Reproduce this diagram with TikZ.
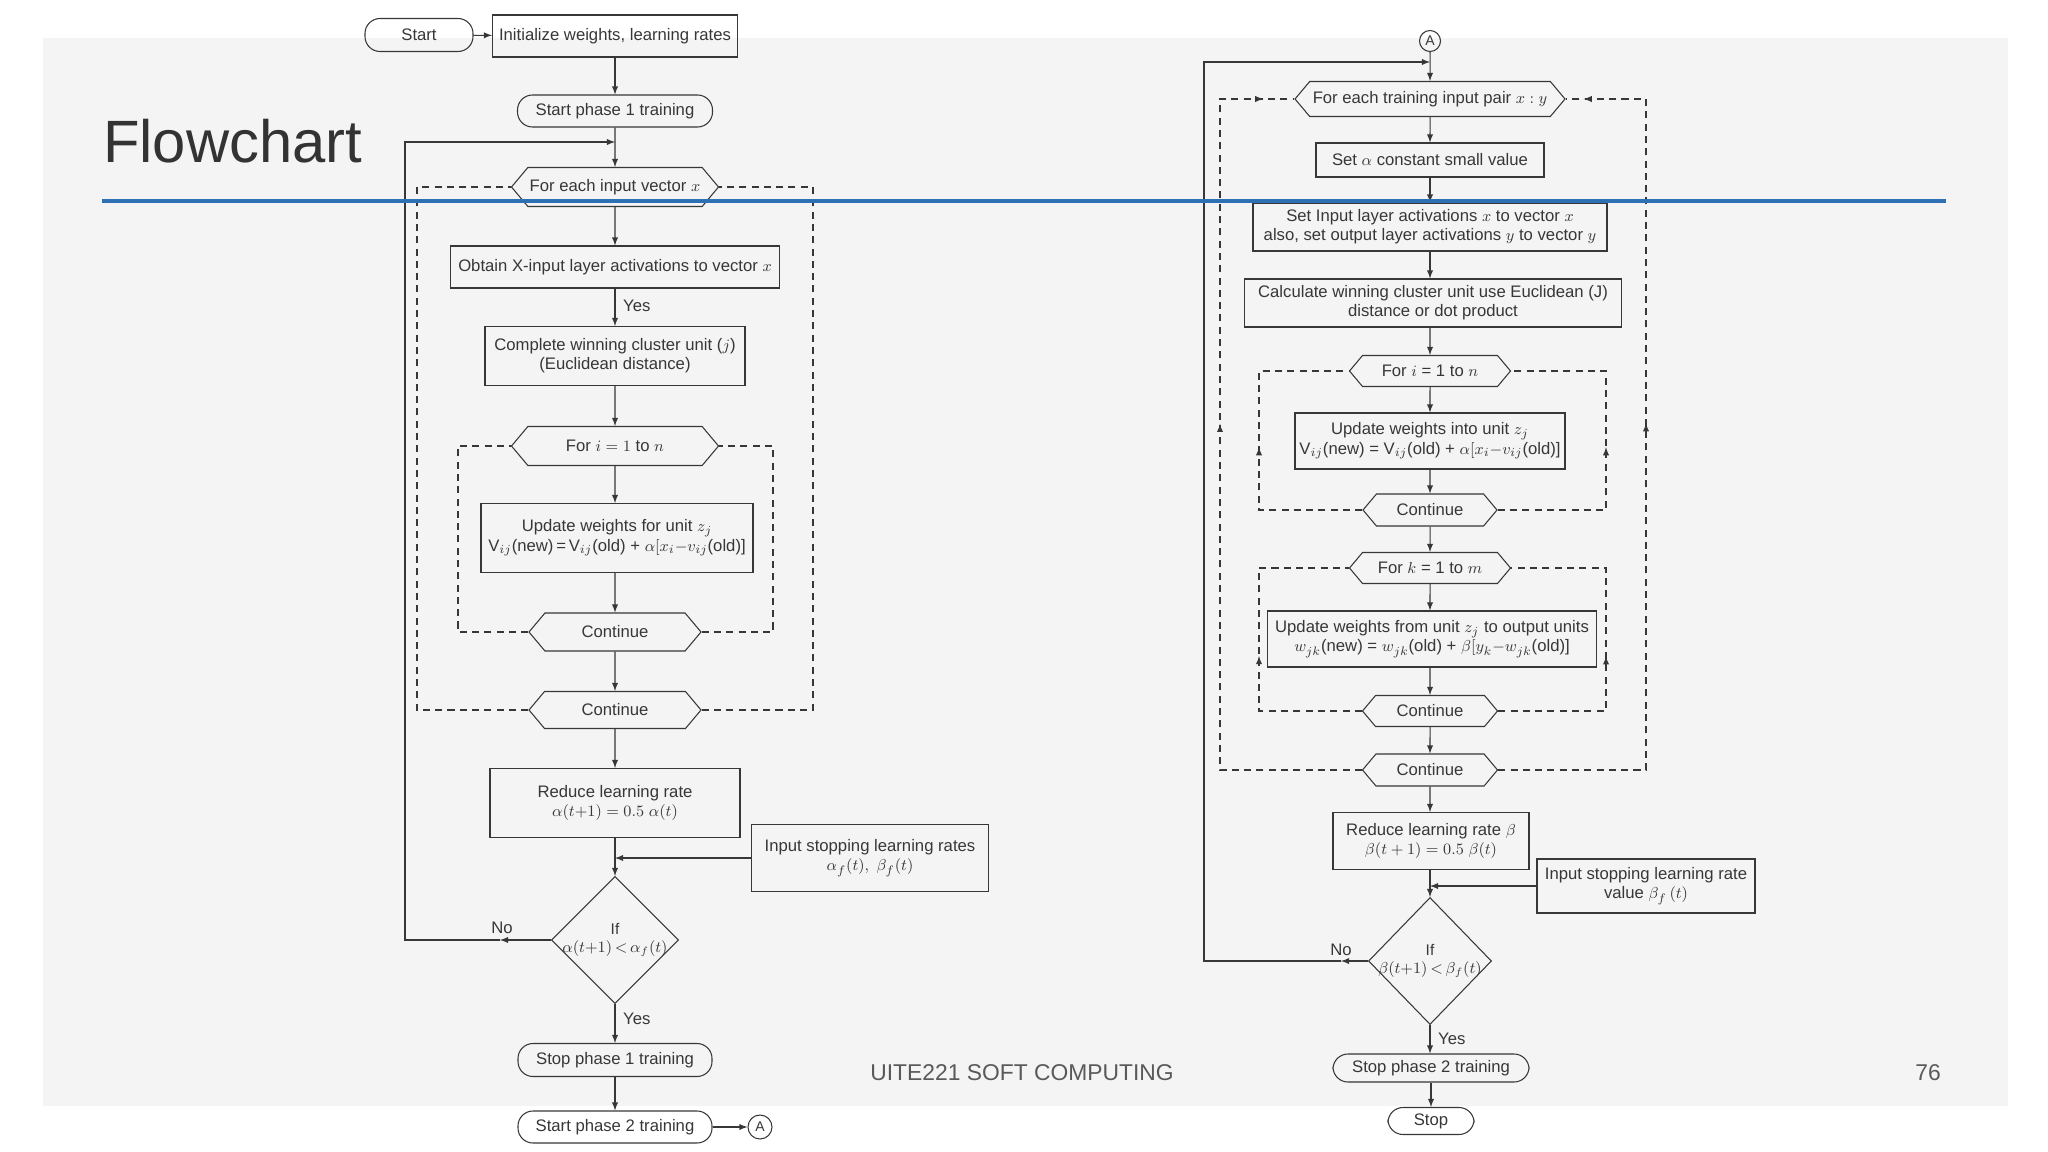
\documentclass[tikz,border=0pt]{standalone}
\usepackage{fontspec}
\setmainfont{Liberation Sans}
\usetikzlibrary{shapes.geometric,shapes.symbols,decorations.markings}
\definecolor{slidegray}{RGB}{244,244,244}
\definecolor{inkgray}{RGB}{55,55,55}
\definecolor{titleblue}{RGB}{46,112,182}
\newcommand{\pxu}{0.02cm}

\begin{document}
\begin{tikzpicture}[x=0.02cm,y=-0.02cm,>=latex,
  every node/.style={font=\fontsize{9.5}{11}\selectfont,text=inkgray},
  wh/.style 2 args={minimum width=#1*\pxu,minimum height=#2*\pxu},
  box/.style={draw=inkgray,line width=0.6pt,inner sep=1pt,align=center},
  term/.style={box,rounded corners=0.3cm},
  loopbox/.style={draw=inkgray,line width=0.6pt,signal,signal to=west and east,signal pointer angle=100,inner sep=1pt},
  decision/.style={draw=inkgray,line width=0.6pt,diamond,inner sep=0pt},
  iftext/.style={align=center,font=\fontsize{8.8}{10.5}\selectfont},
  joint/.style={draw=inkgray,line width=0.6pt,circle,inner sep=0pt,font=\fontsize{8}{9}\selectfont},
  flow/.style={draw=inkgray,line width=0.6pt,->},
  loopline/.style={draw=inkgray,line width=0.6pt,dash pattern=on 4pt off 3pt},
  midarrow/.style={postaction={decorate},decoration={markings,mark=at position #1 with {\arrow[inkgray]{latex}}}},
]
\useasboundingbox (0,0) rectangle (2048,1152);
\fill[slidegray] (43,38) rectangle (2008,1106);

% left chart : phase 1
\node[term,wh={108}{33}] (start) at (419,35) {Start};
\node[box,wh={245}{42}] (init) at (615,36) {Initialize weights, learning rates};
\node[term,wh={195}{32}] (sp1) at (615,111) {Start phase 1 training};
\node[loopbox,wh={207}{39}] (each1) at (615,187) {For each input vector $x$};
\node[box,wh={329}{42}] (obtain) at (615,267) {Obtain X-input layer activations to vector $x$};
\node[box,wh={260}{59}] (win1) at (615,356) {Complete winning cluster unit ($j$)\\(Euclidean distance)};
\node[loopbox,wh={207}{39}] (fori1) at (615,446) {For $i = 1$ to $n$};
\node[box,wh={272}{69}] (upd1) at (617,538) {Update weights for unit $z_j$\\V$_{ij}$(new)\,=\,V$_{ij}$(old) + $\alpha[x_i{-}v_{ij}$(old)]};
\node[loopbox,wh={172}{38}] (cont1) at (615,632) {Continue};
\node[loopbox,wh={172}{37}] (cont2) at (615,710) {Continue};
\node[box,wh={250}{69}] (red1) at (615,803) {Reduce learning rate\\$\alpha(t{+}1) = 0.5\ \alpha(t)$};
\node[box,wh={237}{67}] (inp1) at (870,858) {Input stopping learning rates\\$\alpha_f(t),\ \beta_f(t)$};
\node[decision,wh={127}{127}] (dec1) at (615,940) {};
\node[iftext] (dec1t) at (dec1) {If\\$\alpha(t{+}1)\,{<}\,\alpha_f(t)$};
\node[term,wh={194}{33}] (stop1) at (615,1060) {Stop phase 1 training};
\node[term,wh={194}{32}] (sp2) at (615,1127) {Start phase 2 training};
\node[joint,wh={24}{24}] (A1) at (760,1127) {A};
\node[anchor=west] (yes1) at (617,306) {Yes};
\node[anchor=west] (yes2) at (617,1019) {Yes};
\node (no1t) at (502,928) {No};
\coordinate (no1) at (500,940);
\coordinate (join1) at (615,142);
\coordinate (feed1) at (615,858);
\coordinate (o1l) at (417,0);
\coordinate (o1r) at (813,0);
\coordinate (i1l) at (458,0);
\coordinate (i1r) at (773,0);

\draw[flow] (start) -- (init);
\draw[flow] (init) -- (sp1);
\draw[flow] (sp1) -- (each1);
\draw[flow] (each1) -- (obtain);
\draw[flow] (obtain) -- (win1);
\draw[flow] (win1) -- (fori1);
\draw[flow] (fori1) -- (upd1.north -| fori1);
\draw[flow] (upd1.south -| cont1) -- (cont1);
\draw[flow] (cont1) -- (cont2);
\draw[flow] (cont2) -- (red1);
\draw[flow] (red1) -- (dec1);
\draw[flow] (inp1) -- (feed1);
\draw[flow] (dec1) -- (stop1);
\draw[flow] (stop1) -- (sp2);
\draw[flow] (sp2) -- (A1);
\draw[flow] (dec1) -- (no1);
\draw[flow] (no1) -| (405,142) -- (join1);
\draw[loopline] (cont2.west) -| (o1l |- each1.west) -- (each1.west);
\draw[loopline] (cont2.east) -| (o1r |- each1.east) -- (each1.east);
\draw[loopline] (cont1.west) -| (i1l |- fori1.west) -- (fori1.west);
\draw[loopline] (cont1.east) -| (i1r |- fori1.east) -- (fori1.east);

% right chart : phase 2
\node[joint,wh={21}{21}] (A2) at (1430,41) {A};
\node[loopbox,wh={270}{35}] (each2) at (1430,99) {For each training input pair $x:y$};
\node[box,wh={228}{34}] (setal) at (1430,160) {Set $\alpha$ constant small value};
\node[box,wh={354}{48}] (setin) at (1430,227) {Set Input layer activations $x$ to vector $x$\\also, set output layer activations $y$ to vector $y$};
\node[box,wh={377}{48}] (win2) at (1433,303) {Calculate winning cluster unit use Euclidean (J)\\distance or dot product};
\node[loopbox,wh={161}{31}] (fori2) at (1430,371) {For $i$ = 1 to $n$};
\node[box,wh={270}{56}] (upd2) at (1430,441) {Update weights into unit $z_j$\\V$_{ij}$(new) = V$_{ij}$(old) + $\alpha[x_i{-}v_{ij}$(old)]};
\node[loopbox,wh={134}{32}] (cont3) at (1430,510) {Continue};
\node[loopbox,wh={161}{31}] (fork) at (1430,568) {For $k$ = 1 to $m$};
\node[box,wh={329}{56}] (upd3) at (1432,639) {Update weights from unit $z_j$ to output units\\$w_{jk}$(new) = $w_{jk}$(old) + $\beta[y_k{-}w_{jk}$(old)]};
\node[loopbox,wh={135}{31}] (cont4) at (1430,711) {Continue};
\node[loopbox,wh={135}{32}] (cont5) at (1430,770) {Continue};
\node[box,wh={196}{57}] (red2) at (1431,841) {Reduce learning rate $\beta$\\$\beta(t+1) = 0.5\ \beta(t)$};
\node[box,wh={218}{54}] (inp2) at (1646,886) {Input stopping learning rate\\value $\beta_f\,(t)$};
\node[decision,wh={123}{127}] (dec2) at (1430,961) {};
\node[iftext] (dec2t) at (dec2) {If\\$\beta(t{+}1)\,{<}\,\beta_f(t)$};
\node[term,wh={196}{28}] (stop2) at (1431,1068) {Stop phase 2 training};
\node[term,wh={86}{27}] (stop) at (1431,1121) {Stop};
\node[anchor=west] (yes3) at (1432,1039) {Yes};
\node (no2t) at (1341,950) {No};
\coordinate (no2) at (1341,961);
\coordinate (join2) at (1430,62);
\coordinate (feed2) at (1430,886);
\coordinate (o2l) at (1220,0);
\coordinate (o2r) at (1646,0);
\coordinate (i2l) at (1259,0);
\coordinate (i2r) at (1606,0);

\draw[flow] (A2) -- (each2);
\draw[flow] (each2) -- (setal);
\draw[flow] (setal) -- (setin);
\draw[flow] (setin) -- (win2.north -| setin);
\draw[flow] (win2.south -| fori2) -- (fori2);
\draw[flow] (fori2) -- (upd2);
\draw[flow] (upd2) -- (cont3);
\draw[flow] (cont3) -- (fork);
\draw[flow] (fork) -- (upd3.north -| fork);
\draw[flow] (upd3.south -| cont4) -- (cont4);
\draw[flow] (cont4) -- (cont5);
\draw[flow] (cont5) -- (red2.north -| cont5);
\draw[flow] (red2.south -| dec2) -- (dec2);
\draw[flow] (inp2) -- (feed2);
\draw[flow] (dec2) -- (stop2.north -| dec2);
\draw[flow] (stop2.south -| stop) -- (stop);
\draw[flow] (dec2) -- (no2);
\draw[flow] (no2) -| (1204,62) -- (join2);
\draw[loopline,midarrow=0.55] (cont5.west) -| (o2l |- each2.west) -- (each2.west);
\draw[loopline,midarrow=0.965] (cont5.west) -| (o2l |- each2.west) -- (each2.west);
\draw[loopline,midarrow=0.55] (cont5.east) -| (o2r |- each2.east) -- (each2.east);
\draw[loopline,midarrow=0.98] (cont5.east) -| (o2r |- each2.east) -- (each2.east);
\draw[loopline,midarrow=0.5] (cont3.west) -| (i2l |- fori2.west) -- (fori2.west);
\draw[loopline,midarrow=0.5] (cont3.east) -| (i2r |- fori2.east) -- (fori2.east);
\draw[loopline,midarrow=0.47] (cont4.west) -| (i2l |- fork.west) -- (fork.west);
\draw[loopline,midarrow=0.47] (cont4.east) -| (i2r |- fork.east) -- (fork.east);

% slide title and footer
\node[anchor=base west,font=\fontsize{34}{40}\selectfont,text=black!80] (title) at (97,163) {Flowchart};
\draw[titleblue,line width=2.2pt] (102,201) -- (1946,201);
\node[font=\fontsize{13}{15}\selectfont,text=black!65] (footer) at (1022,1073) {UITE221 SOFT COMPUTING};
\node[font=\fontsize{13}{15}\selectfont,text=black!65] (page) at (1928,1073) {76};
\end{tikzpicture}
\end{document}
